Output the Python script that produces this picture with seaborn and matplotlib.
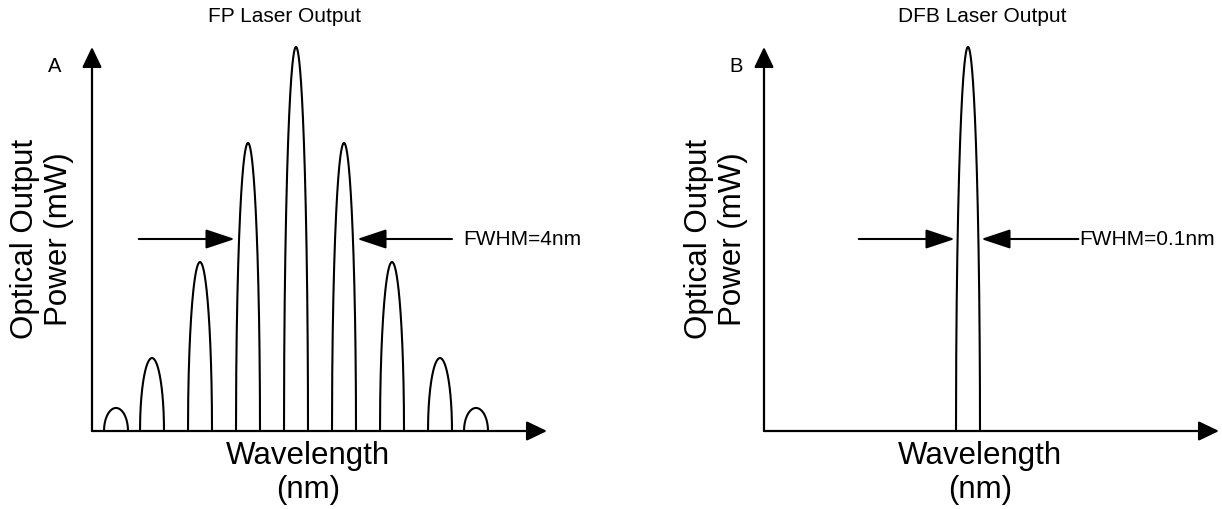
import numpy as np
import pandas as pd
import matplotlib
matplotlib.use("Agg")
import matplotlib.pyplot as plt
import seaborn as sns

# ---- data ----
fp_wavelength = [1535, 1538, 1542, 1546, 1550, 1554, 1558, 1562, 1565]
fp_power = [0.06, 0.19, 0.44, 0.75, 1.0, 0.75, 0.44, 0.19, 0.06]
dfb_wavelength = [1550]
dfb_power = [1.0]
mode_width = 2.0  # base width of each drawn mode (nm)

titles = ["FP Laser Output", "DFB Laser Output"]
panel_letters = ["A", "B"]
fwhm_labels = ["FWHM=4nm", "FWHM=0.1nm"]
ylabel = "Optical Output\nPower (mW)"
xlabel = "Wavelength\n(nm)"

sns.set_theme(style="white")
plt.rcParams["font.family"] = ["Liberation Sans", "DejaVu Sans"]

W, H = 1222, 510
fig = plt.figure(figsize=(W / 100, H / 100), dpi=100)


def modes_frame(centers, heights, width):
    t = np.linspace(-1, 1, 301)
    rows = []
    for i, (c, h) in enumerate(zip(centers, heights)):
        xs = c + width / 2 * t
        ys = h * np.sqrt(np.clip(1 - t ** 2, 0, None))
        rows.append(pd.DataFrame({"wavelength": xs, "power": ys, "mode": i}))
    return pd.concat(rows, ignore_index=True)


x0 = 1533
xlen = 455 / 12
axes_px = [92, 764]
data_sets = [(fp_wavelength, fp_power), (dfb_wavelength, dfb_power)]
arrow_specs = [
    ((1536.9, 1544.9), (1563.0, 1555.1), 1563.9),
    ((1540.9, 1548.9), (1559.2, 1551.1), 1559.25),
]
title_x = [285, 982]
letter_x = [55, 736]
ylabel_x = [42, 716]
xlabel_x = [308, 980]

for k, ax_left in enumerate(axes_px):
    ax = fig.add_axes([ax_left / W, 78 / H, 455 / W, 384 / H])
    ax.set_xlim(x0, x0 + xlen)
    ax.set_ylim(0, 1.0)
    df = modes_frame(*data_sets[k], mode_width)
    sns.lineplot(data=df, x="wavelength", y="power", units="mode", estimator=None,
                 sort=False, color="black", lw=1.5, ax=ax, clip_on=False)
    for s in ax.spines.values():
        s.set_visible(False)
    ax.set_xticks([])
    ax.set_yticks([])
    ax.set_xlabel("")
    ax.set_ylabel("")
    ax.patch.set_alpha(0)

    # axis arrows
    ap = dict(arrowstyle="-|>,head_length=1.25,head_width=0.6", mutation_scale=10,
              color="black", lw=1.6, shrinkA=0, shrinkB=0)
    ax.annotate("", xy=(0, 1.0), xytext=(0, 0), xycoords="axes fraction",
                textcoords="axes fraction", arrowprops=ap, annotation_clip=False)
    ax.annotate("", xy=(1.0, 0), xytext=(0, 0), xycoords="axes fraction",
                textcoords="axes fraction", arrowprops=ap, annotation_clip=False)

    # FWHM arrows
    (la_tail, la_tip), (ra_tail, ra_tip), tx = arrow_specs[k]
    fp = dict(arrowstyle="-|>,head_length=1.8,head_width=0.6", mutation_scale=10,
              color="black", lw=1.5, shrinkA=0, shrinkB=0)
    ax.annotate("", xy=(la_tip, 0.5), xytext=(la_tail, 0.5), arrowprops=fp,
                annotation_clip=False)
    ax.annotate("", xy=(ra_tip, 0.5), xytext=(ra_tail, 0.5), arrowprops=fp,
                annotation_clip=False)
    ax.text(tx, 0.5, fwhm_labels[k], ha="left", va="center", fontsize=15,
            color="black", clip_on=False)

    fig.text(title_x[k] / W, 1 - 16 / H, titles[k], ha="center",
             va="center", fontsize=15, color="black")
    fig.text(letter_x[k] / W, 1 - 66 / H, panel_letters[k], ha="center",
             va="center", fontsize=14.5, color="black")
    fig.text(ylabel_x[k] / W, 1 - 239 / H, ylabel, ha="center",
             va="center", rotation=90, fontsize=22.5, multialignment="center",
             linespacing=1.15, color="black")
    fig.text(xlabel_x[k] / W, 1 - 473 / H, xlabel, ha="center", va="center",
             fontsize=22.5, multialignment="center", linespacing=1.15, color="black")

fig.savefig("out.png", dpi=100, facecolor="white")
